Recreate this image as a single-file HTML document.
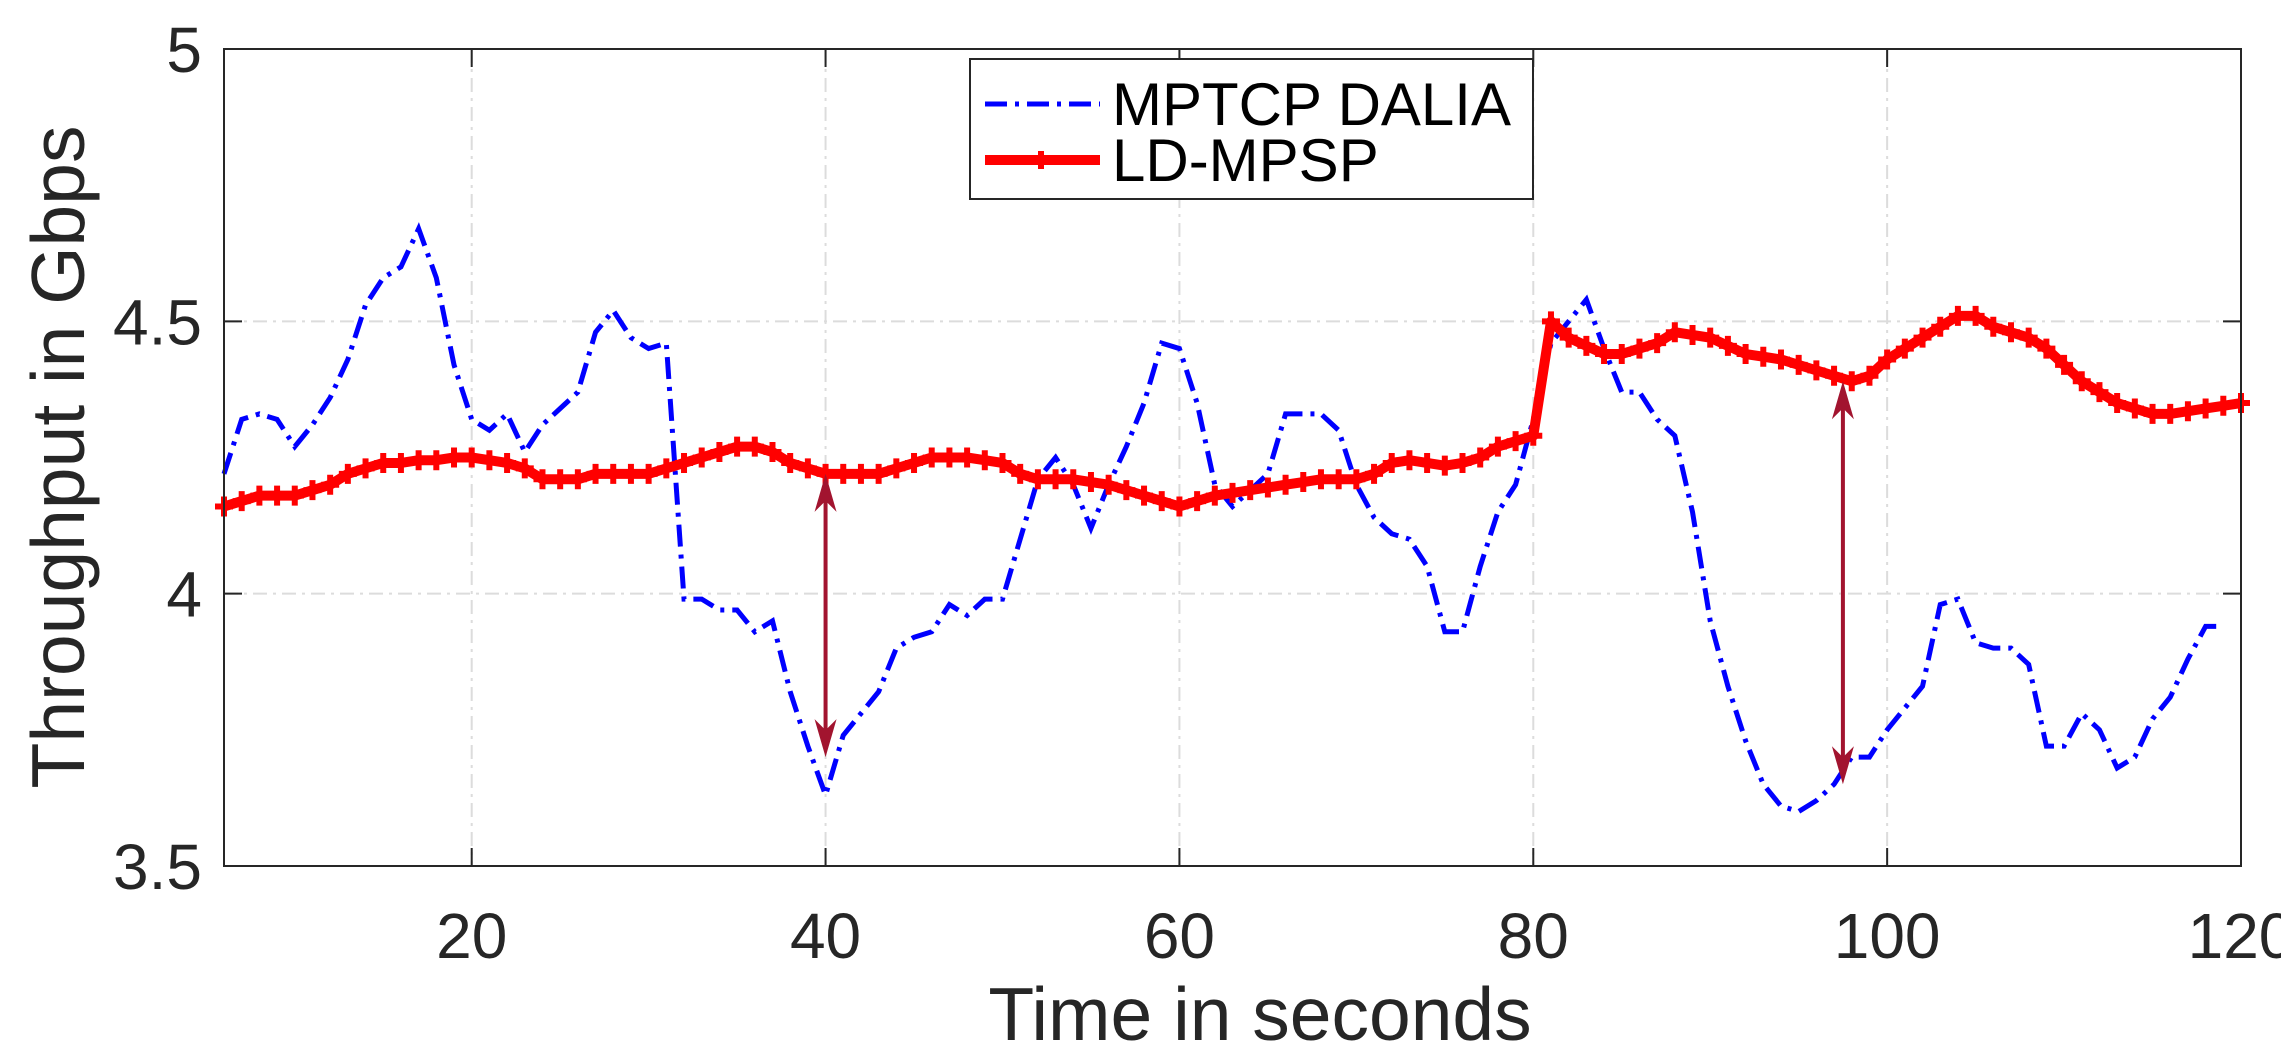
<!DOCTYPE html>
<html><head><meta charset="utf-8"><style>
html,body{margin:0;padding:0;background:#fff;}
svg{display:block;font-family:"Liberation Sans",sans-serif;}
</style></head><body>
<svg id="chart" width="2281" height="1045" viewBox="0 0 2281 1045" xmlns="http://www.w3.org/2000/svg">
<rect x="0" y="0" width="2281" height="1045" fill="#fff"/>
<g id="grid"></g>
<g id="series"></g>
<g id="axes"></g>
<text x="64" y="457" font-size="75" fill="#262626" text-anchor="middle" transform="rotate(-90 64 457)" dominant-baseline="middle">Throughput in Gbps</text>
<text x="1260" y="1040" font-size="75" fill="#262626" text-anchor="middle">Time in seconds</text>
<g>
<rect x="970" y="59" width="563" height="140" fill="#fff" stroke="#262626" stroke-width="2"/>
<line x1="985" y1="104" x2="1100" y2="104" stroke="#0000ff" stroke-width="5" stroke-dasharray="22 8 4 8"/>
<text x="1112" y="125" font-size="60" fill="#000">MPTCP DALIA</text>
<line x1="985" y1="160" x2="1100" y2="160" stroke="#ff0000" stroke-width="10"/>
<path d="M1032 160h18M1041 151v18" stroke="#ff0000" stroke-width="6"/>
<text x="1112" y="181" font-size="60" fill="#000">LD-MPSP</text>
</g>
</svg>
<script>
const xTicks=[20,40,60,80,100,120];
const yTicks=[3.5,4,4.5,5];
const yTickLabels=["3.5","4","4.5","5"];
const daliaT=[6,7,8,9,10,11,12,13,14,15,16,17,18,19,20,21,22,23,24,25,26,27,28,29,30,31,32,33,34,35,36,37,38,39,40,41,42,43,44,45,46,47,48,49,50,51,52,53,54,55,56,57,58,59,60,61,62,63,64,65,66,67,68,69,70,71,72,73,74,75,76,77,78,79,80,81,82,83,84,85,86,87,88,89,90,91,92,93,94,95,96,97,98,99,100,101,102,103,104,105,106,107,108,109,110,111,112,113,114,115,116,117,118,119,120];
const daliaV=[4.22,4.32,4.33,4.32,4.27,4.31,4.36,4.43,4.53,4.58,4.6,4.67,4.58,4.42,4.32,4.3,4.33,4.26,4.31,4.34,4.37,4.48,4.52,4.47,4.45,4.46,3.99,3.99,3.97,3.97,3.93,3.95,3.82,3.72,3.63,3.74,3.78,3.82,3.9,3.92,3.93,3.98,3.96,3.99,3.99,4.1,4.21,4.25,4.2,4.12,4.2,4.27,4.35,4.46,4.45,4.35,4.2,4.16,4.19,4.22,4.33,4.33,4.33,4.3,4.2,4.14,4.11,4.1,4.05,3.93,3.93,4.05,4.15,4.2,4.32,4.46,4.5,4.54,4.45,4.37,4.37,4.32,4.29,4.15,3.95,3.83,3.73,3.65,3.61,3.6,3.62,3.65,3.7,3.7,3.75,3.79,3.83,3.98,3.99,3.91,3.9,3.9,3.87,3.72,3.72,3.78,3.75,3.68,3.7,3.77,3.81,3.88,3.94,3.94];
const ldT=[6,7,8,9,10,11,12,13,14,15,16,17,18,19,20,21,22,23,24,25,26,27,28,29,30,31,32,33,34,35,36,37,38,39,40,41,42,43,44,45,46,47,48,49,50,51,52,53,54,55,56,57,58,59,60,61,62,63,64,65,66,67,68,69,70,71,72,73,74,75,76,77,78,79,80,81,82,83,84,85,86,87,88,89,90,91,92,93,94,95,96,97,98,99,100,101,102,103,104,105,106,107,108,109,110,111,112,113,114,115,116,117,118,119,120];
const ldV=[4.16,4.17,4.18,4.18,4.18,4.19,4.2,4.22,4.23,4.24,4.24,4.245,4.245,4.25,4.25,4.245,4.24,4.23,4.21,4.21,4.21,4.22,4.22,4.22,4.22,4.23,4.24,4.25,4.26,4.27,4.27,4.26,4.24,4.23,4.22,4.22,4.22,4.22,4.23,4.24,4.25,4.25,4.25,4.245,4.24,4.22,4.21,4.21,4.21,4.205,4.2,4.19,4.18,4.17,4.16,4.17,4.18,4.185,4.19,4.195,4.2,4.205,4.21,4.21,4.21,4.22,4.24,4.245,4.24,4.235,4.24,4.25,4.27,4.28,4.29,4.5,4.47,4.455,4.44,4.44,4.45,4.46,4.48,4.475,4.47,4.455,4.44,4.435,4.43,4.42,4.41,4.4,4.39,4.4,4.43,4.45,4.47,4.49,4.51,4.51,4.49,4.48,4.47,4.45,4.42,4.39,4.37,4.35,4.34,4.33,4.33,4.335,4.34,4.345,4.35];
const arrowT=[40,97.5];
const arrowTop=[4.22,4.39];
const arrowBottom=[3.70,3.65];

const L=224,R=2241,T=49,B=866,XMIN=6,XMAX=120,YMIN=3.5,YMAX=5;
const sx=t=>L+(t-XMIN)/(XMAX-XMIN)*(R-L);
const sy=v=>B-(v-YMIN)/(YMAX-YMIN)*(B-T);
const NS="http://www.w3.org/2000/svg";
function mk(tag,attrs,parent){const e=document.createElementNS(NS,tag);for(const k in attrs)e.setAttribute(k,attrs[k]);parent.appendChild(e);return e;}
const grid=document.getElementById('grid'),axes=document.getElementById('axes'),series=document.getElementById('series');
xTicks.forEach(t=>{
  const g=mk('line',{x1:sx(t),x2:sx(t),y1:T,y2:B,stroke:'#dcdcdc','stroke-width':2,'stroke-dasharray':'14 6 3 6'},grid);
  
  
  const k=mk('line',{x1:sx(t),x2:sx(t),y1:B,y2:B-18,stroke:'#262626','stroke-width':2},axes);
  
  
  const k2=mk('line',{x1:sx(t),x2:sx(t),y1:T,y2:T+18,stroke:'#262626','stroke-width':2},axes);
  
  
  const tx=mk('text',{x:sx(t),y:958,'font-size':64,fill:'#262626','text-anchor':'middle'},axes);
  tx.textContent=t;
  
  
});
yTicks.forEach((v,i)=>{
  const g=mk('line',{x1:L,x2:R,y1:sy(v),y2:sy(v),stroke:'#dcdcdc','stroke-width':2,'stroke-dasharray':'14 6 3 6'},grid);
  
  
  const k=mk('line',{x1:L,x2:L+18,y1:sy(v),y2:sy(v),stroke:'#262626','stroke-width':2},axes);
  
  
  const k2=mk('line',{x1:R,x2:R-18,y1:sy(v),y2:sy(v),stroke:'#262626','stroke-width':2},axes);
  
  
  const tx=mk('text',{x:202,y:sy(v)+23,'font-size':64,fill:'#262626','text-anchor':'end'},axes);
  tx.textContent=yTickLabels[i];
  
  
});
const box=mk('rect',{x:L,y:T,width:R-L,height:B-T,fill:'none',stroke:'#262626','stroke-width':2},axes);



const dp=mk('polyline',{points:daliaT.map((t,i)=>sx(t)+','+sy(daliaV[i])).join(' '),fill:'none',stroke:'#0000ff','stroke-width':5,'stroke-dasharray':'22 8 4 8'},series);


const lp=mk('polyline',{points:ldT.map((t,i)=>sx(t)+','+sy(ldV[i])).join(' '),fill:'none',stroke:'#ff0000','stroke-width':10,'stroke-linejoin':'round'},series);


const mg=mk('g',{stroke:'#ff0000','stroke-width':6},series);


ldT.forEach((t,i)=>{const x=sx(t),y=sy(ldV[i]);
  const m=mk('path',{d:`M${x-9} ${y}h18M${x} ${y-10}v20`},mg);
  
  
});
arrowT.forEach((t,i)=>{
  const x=sx(t),y1=sy(arrowTop[i]),y2=sy(arrowBottom[i]),c='#a2142f';
  const g=mk('g',{},series);
  
  
  mk('line',{x1:x,x2:x,y1:y1+10,y2:y2-10,stroke:c,'stroke-width':4},g);
  mk('path',{d:`M${x} ${y1} L${x-11} ${y1+38} L${x} ${y1+27} L${x+11} ${y1+38}Z`,fill:c},g);
  mk('path',{d:`M${x} ${y2} L${x-11} ${y2-38} L${x} ${y2-27} L${x+11} ${y2-38}Z`,fill:c},g);
});
</script>
</body></html>
